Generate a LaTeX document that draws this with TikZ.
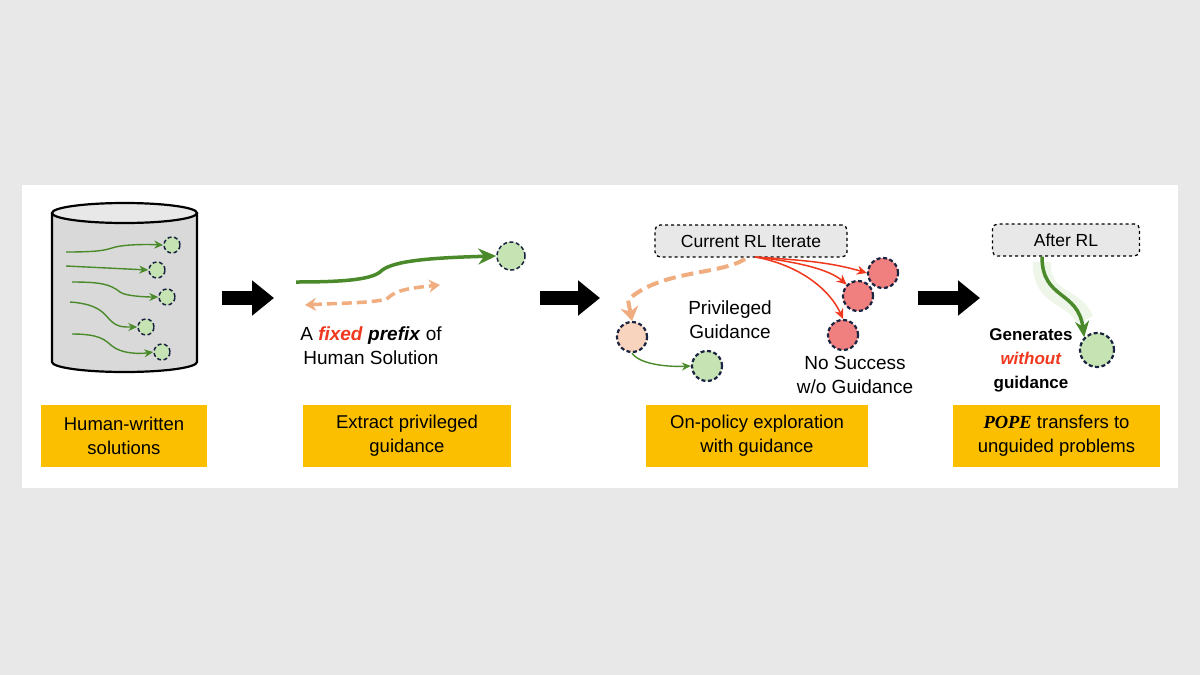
\documentclass[tikz,border=0pt]{standalone}
\usepackage{fontspec}
\setmainfont{Liberation Sans}
\newfontfamily\popefont{Liberation Serif}
\usetikzlibrary{arrows.meta}
\definecolor{bg}{HTML}{E8E8E8}
\definecolor{gfill}{HTML}{C6E3B4}
\definecolor{gline}{HTML}{4A8A2A}
\definecolor{navy}{HTML}{1B2440}
\definecolor{rfill}{HTML}{F08080}
\definecolor{rline}{HTML}{F0381E}
\definecolor{ofill}{HTML}{F8D3BE}
\definecolor{oline}{HTML}{F0AD80}
\definecolor{ybox}{HTML}{FBBF00}
\definecolor{boxg}{HTML}{E8E8E8}
\definecolor{cyl}{HTML}{D9D9D9}
\tikzset{
 dot/.style={circle,draw=navy,dash pattern=on 4pt off 2.5pt,line width=1.5pt,minimum size=#1,inner sep=0pt},
 gdot/.style={dot=#1,fill=gfill},
 rdot/.style={dot=#1,fill=rfill,line width=2.2pt},
 ydb/.style={fill=ybox,minimum height=62pt,align=center,font=\fontsize{18.5}{24}\selectfont},
 big/.style={-{Triangle[length=22pt,width=34pt]},line width=14pt,black},
 tag/.style={draw=black,dashed,line width=1.3pt,fill=boxg,rounded corners=5pt,minimum height=32pt,font=\fontsize{17.5}{20}\selectfont},
 txt/.style={align=center,font=\fontsize{19}{24}\selectfont},
 garr/.style={gline,line width=1.4pt,-{Stealth[length=9pt,width=8pt]}},
 rarr/.style={rline,line width=1.5pt,-{Stealth[length=10pt,width=9pt]}},
}
\begin{document}
\begin{tikzpicture}[x=1pt,y=-1pt]
\fill[bg] (0,0) rectangle (1200,675);
\fill[white] (22,185) rectangle (1178,488);
% cylinder
\draw[line width=2.2pt,fill=cyl] (52,213) -- (52,362) arc[start angle=180,end angle=0,x radius=72.5,y radius=10] -- (197,213);
\draw[line width=2.2pt,fill=boxg] (124.5,213) ellipse[x radius=72.5,y radius=10];
\node[gdot=16pt] (c1) at (172,245) {};
\node[gdot=16pt] (c2) at (157,270) {};
\node[gdot=16pt] (c3) at (167,297) {};
\node[gdot=16pt] (c4) at (146,327) {};
\node[gdot=16pt] (c5) at (162,352) {};
\draw[garr] (66,252) .. controls (100,252) and (105,250) .. (112,248) .. controls (120,245) and (140,244) .. (c1.west);
\draw[garr] (66,266) -- (c2.west);
\draw[garr] (72,282) .. controls (100,282) and (110,284) .. (120,292) .. controls (125,296) and (145,297) .. (c3.west);
\draw[garr] (70,302) .. controls (100,304) and (105,315) .. (110,320) .. controls (118,328) and (125,327) .. (c4.west);
\draw[garr] (72,334) .. controls (100,334) and (105,340) .. (112,346) .. controls (122,354) and (140,354) .. (c5.west);
% big arrows
\coordinate (a1s) at (222,298); \coordinate (a1e) at (274,298);
\coordinate (a2s) at (540,298); \coordinate (a2e) at (600,298);
\coordinate (a3s) at (918,298); \coordinate (a3e) at (980,298);
\draw[big] (a1s) -- (a1e);
\draw[big] (a2s) -- (a2e);
\draw[big] (a3s) -- (a3e);
% panel 2
\node[gdot=28pt] (p2c) at (511,256) {};
\coordinate (p2s) at (296,282);
\draw[gline,line width=3.5pt,-{Stealth[length=18pt,width=16pt]}] (p2s) .. controls (340,282) and (370,280) .. (380,272) .. controls (390,262) and (420,258) .. (p2c.west);
\coordinate (o1) at (305,305); \coordinate (o2) at (440,285);
\draw[oline,line width=3.5pt,dash pattern=on 10pt off 5pt,{Stealth[length=11pt,width=13pt]}-{Stealth[length=11pt,width=13pt]}] (o1) .. controls (340,303) and (380,303) .. (388,298) .. controls (396,290) and (410,288) .. (o2);
\node[txt] (t2) at (371,346) {A \textcolor{rline}{\textbf{\textit{fixed}}} \textbf{\textit{prefix}} of\\Human Solution};
% yellow boxes
\node[ydb,minimum width=166pt] (y1) at (124,436) {Human-written\\solutions};
\node[ydb,minimum width=208pt] (y2) at (407,436) {Extract privileged\\guidance};
\node[ydb,minimum width=222pt] (y3) at (757,436) {On-policy exploration\\with guidance};
\node[ydb,minimum width=207pt] (y4) at (1056.5,436) {{\popefont\textbf{\textit{POPE}}} transfers to\\unguided problems};
% panel 3
\node[tag,minimum width=192pt] (cur) at (751,241) {Current RL Iterate};
\node[rdot=30pt] (r1) at (883,273) {};
\node[rdot=30pt] (r2) at (858,296) {};
\node[rdot=30pt] (r3) at (843,335) {};
\node[dot=30pt,fill=ofill,line width=2.2pt] (oc) at (632,337) {};
\node[dot=30pt,fill=gfill,line width=2.2pt] (gc) at (707,366) {};
\coordinate (src) at (755,257);
\draw[rarr] (src) .. controls (800,260) and (830,262) .. (r1.west);
\draw[rarr] (src) .. controls (800,262) and (830,270) .. (r2.north west);
\draw[rarr] (src) .. controls (800,265) and (830,290) .. (r3.north);
\draw[oline,line width=4pt,dash pattern=on 12pt off 6pt,-{Stealth[length=14pt,width=18pt]}] (745,259) .. controls (720,275) and (660,270) .. (628,300) -- (oc.north);
\draw[garr] (oc.south) .. controls (640,365) and (670,367) .. (gc.west);
\node[txt] (pg) at (730,320) {Privileged\\Guidance};
\node[txt] (ns) at (855,375) {No Success\\w/o Guidance};
% panel 4
\node[tag,minimum width=147pt] (aft) at (1066,240) {After RL};
\node[dot=34pt,fill=gfill,line width=2.2pt] (fc) at (1097,350) {};
\draw[gfill!60!white,line width=18pt,opacity=0.5] (1042,262) .. controls (1040,300) and (1075,295) .. (1085,320);
\draw[gline,line width=3.5pt,-{Stealth[length=16pt,width=14pt]}] (aft.south -| 1042,0) .. controls (1042,300) and (1078,290) .. (fc.north west);
\node[align=center,font=\bfseries\fontsize{17}{24}\selectfont] (gen) at (1031,360) {Generates\\\textcolor{rline}{\textit{without}}\\guidance};
\end{tikzpicture}
\end{document}
